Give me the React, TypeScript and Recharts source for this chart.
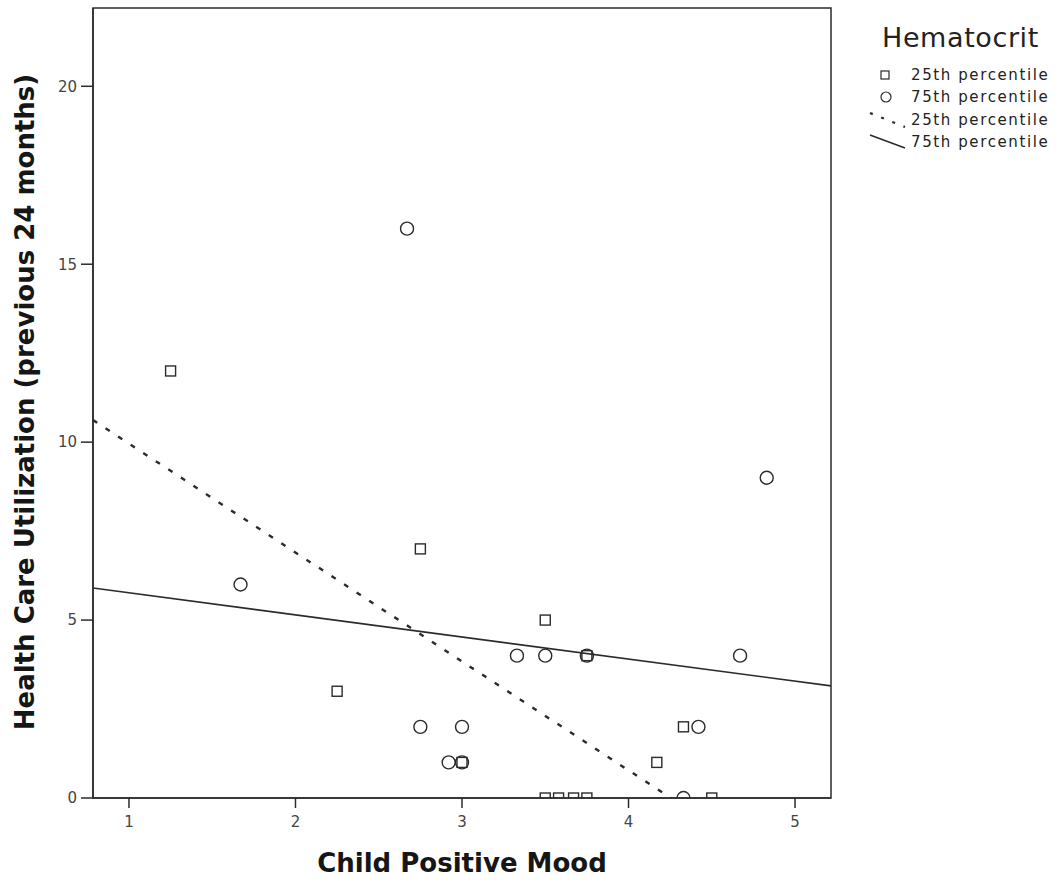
import React from "react"
import {
  ReferenceArea,
  Scatter,
  ScatterChart,
  XAxis,
  YAxis,
} from "recharts"

// values
const xTicks = [1, 2, 3, 4, 5]
const yTicks = [0, 5, 10, 15, 20]
const xDomain = [0.784, 5.216]
const yDomain = [0, 22.2]

// Hematocrit 25th percentile (squares)
const p25 = [
  { x: 1.25, y: 12 },
  { x: 2.25, y: 3 },
  { x: 2.75, y: 7 },
  { x: 3.0, y: 1 },
  { x: 3.5, y: 5 },
  { x: 3.75, y: 4 },
  { x: 4.17, y: 1 },
  { x: 4.33, y: 2 },
  { x: 3.5, y: 0 },
  { x: 3.58, y: 0 },
  { x: 3.67, y: 0 },
  { x: 3.75, y: 0 },
  { x: 4.5, y: 0 },
]

// Hematocrit 75th percentile (circles)
const p75 = [
  { x: 2.67, y: 16 },
  { x: 1.67, y: 6 },
  { x: 4.83, y: 9 },
  { x: 3.33, y: 4 },
  { x: 3.5, y: 4 },
  { x: 3.75, y: 4 },
  { x: 4.67, y: 4 },
  { x: 2.75, y: 2 },
  { x: 3.0, y: 2 },
  { x: 4.42, y: 2 },
  { x: 2.92, y: 1 },
  { x: 3.0, y: 1 },
  { x: 4.33, y: 0 },
]

// fit lines (end points)
const fit25 = [
  { x: 0.784, y: 10.62 },
  { x: 4.3, y: -0.14 },
]
const fit75 = [
  { x: 0.784, y: 5.9 },
  { x: 5.216, y: 3.15 },
]

const ink = "#2b2b2b"
const tickFont = { fontFamily: "DejaVu Sans", fontSize: 15, fill: "#444" }
const titleFont = "'DejaVu Sans', sans-serif"

const SquareDot = (props: any) => {
  const { cx, cy } = props
  if (cx == null || cy == null) return <g />
  return <rect x={cx - 5} y={cy - 5} width={10} height={10} fill="none" stroke={ink} strokeWidth={1.4} />
}

const CircleDot = (props: any) => {
  const { cx, cy } = props
  if (cx == null || cy == null) return <g />
  return <circle cx={cx} cy={cy} r={6.5} fill="none" stroke={ink} strokeWidth={1.4} />
}

const NoDot = () => <g />

const legendText = { fontFamily: "DejaVu Sans", fontSize: 15, letterSpacing: 1.6, fill: "#222" }

// legend drawn on its own layer, page coordinates
const LegendBox = () => (
  <svg width={1059} height={170} style={{ position: "absolute", left: 0, top: 0, pointerEvents: "none" }}>
    <text x={882} y={47} fontFamily="DejaVu Sans" fontSize={27} letterSpacing={0.6} fill="#222">
      Hematocrit
    </text>
    <rect x={881} y={71} width={8} height={8} fill="none" stroke={ink} strokeWidth={1.2} />
    <text x={911} y={80} {...legendText}>25th percentile</text>
    <circle cx={886} cy={97} r={5} fill="none" stroke={ink} strokeWidth={1.2} />
    <text x={911} y={102} {...legendText}>75th percentile</text>
    <line x1={870} y1={113} x2={905} y2={127} stroke={ink} strokeWidth={2.2} strokeDasharray="3 9" />
    <text x={911} y={125} {...legendText}>25th percentile</text>
    <line x1={870} y1={135} x2={905} y2={148} stroke={ink} strokeWidth={1.6} />
    <text x={911} y={147} {...legendText}>75th percentile</text>
  </svg>
)

const YTitle = (props: any) => {
  const vb = props.viewBox || {}
  const cy = vb.y + vb.height / 2 - 1
  return (
    <text
      x={34}
      y={cy}
      transform={`rotate(-90, 34, ${cy})`}
      textAnchor="middle"
      fontFamily={titleFont}
      fontWeight={700}
      fontSize={26}
      fill="#161616"
    >
      Health Care Utilization (previous 24 months)
    </text>
  )
}

const XTitle = (props: any) => {
  const vb = props.viewBox || {}
  return (
    <text
      x={vb.x + vb.width / 2}
      y={872}
      textAnchor="middle"
      fontFamily={titleFont}
      fontWeight={700}
      fontSize={26}
      fill="#161616"
    >
      Child Positive Mood
    </text>
  )
}

export default function App() {
  return (
    <div style={{ position: "absolute", left: 0, top: 0, width: 1059, height: 882, background: "#fff" }}>
      <ScatterChart width={1059} height={882} margin={{ top: 8, right: 228, bottom: 0, left: 0 }}>
        <XAxis
          type="number"
          dataKey="x"
          domain={xDomain}
          ticks={xTicks}
          allowDataOverflow
          height={84}
          tickSize={10}
          tickMargin={8}
          tick={tickFont}
          axisLine={{ stroke: ink, strokeWidth: 1.5 }}
          tickLine={{ stroke: ink, strokeWidth: 1.5 }}
          label={<XTitle />}
        />
        <YAxis
          type="number"
          dataKey="y"
          domain={yDomain}
          ticks={yTicks}
          allowDataOverflow
          width={93}
          tickSize={12}
          tickMargin={4}
          tick={tickFont}
          axisLine={{ stroke: ink, strokeWidth: 1.5 }}
          tickLine={{ stroke: ink, strokeWidth: 1.5 }}
          label={<YTitle />}
        />
        <ReferenceArea
          x1={xDomain[0]}
          x2={xDomain[1]}
          y1={yDomain[0]}
          y2={yDomain[1]}
          fill="none"
          stroke={ink}
          strokeWidth={1.5}
        />
        <Scatter
          name="25th percentile fit"
          data={fit25}
          shape={NoDot}
          line={{ stroke: ink, strokeWidth: 2.4, strokeDasharray: "5 10" }}
          legendType="none"
          isAnimationActive={false}
        />
        <Scatter
          name="75th percentile fit"
          data={fit75}
          shape={NoDot}
          line={{ stroke: ink, strokeWidth: 1.6 }}
          legendType="none"
          isAnimationActive={false}
        />
        <Scatter name="25th percentile" data={p25} shape={SquareDot} isAnimationActive={false} />
        <Scatter name="75th percentile" data={p75} shape={CircleDot} isAnimationActive={false} />
      </ScatterChart>
      <LegendBox />
    </div>
  )
}
